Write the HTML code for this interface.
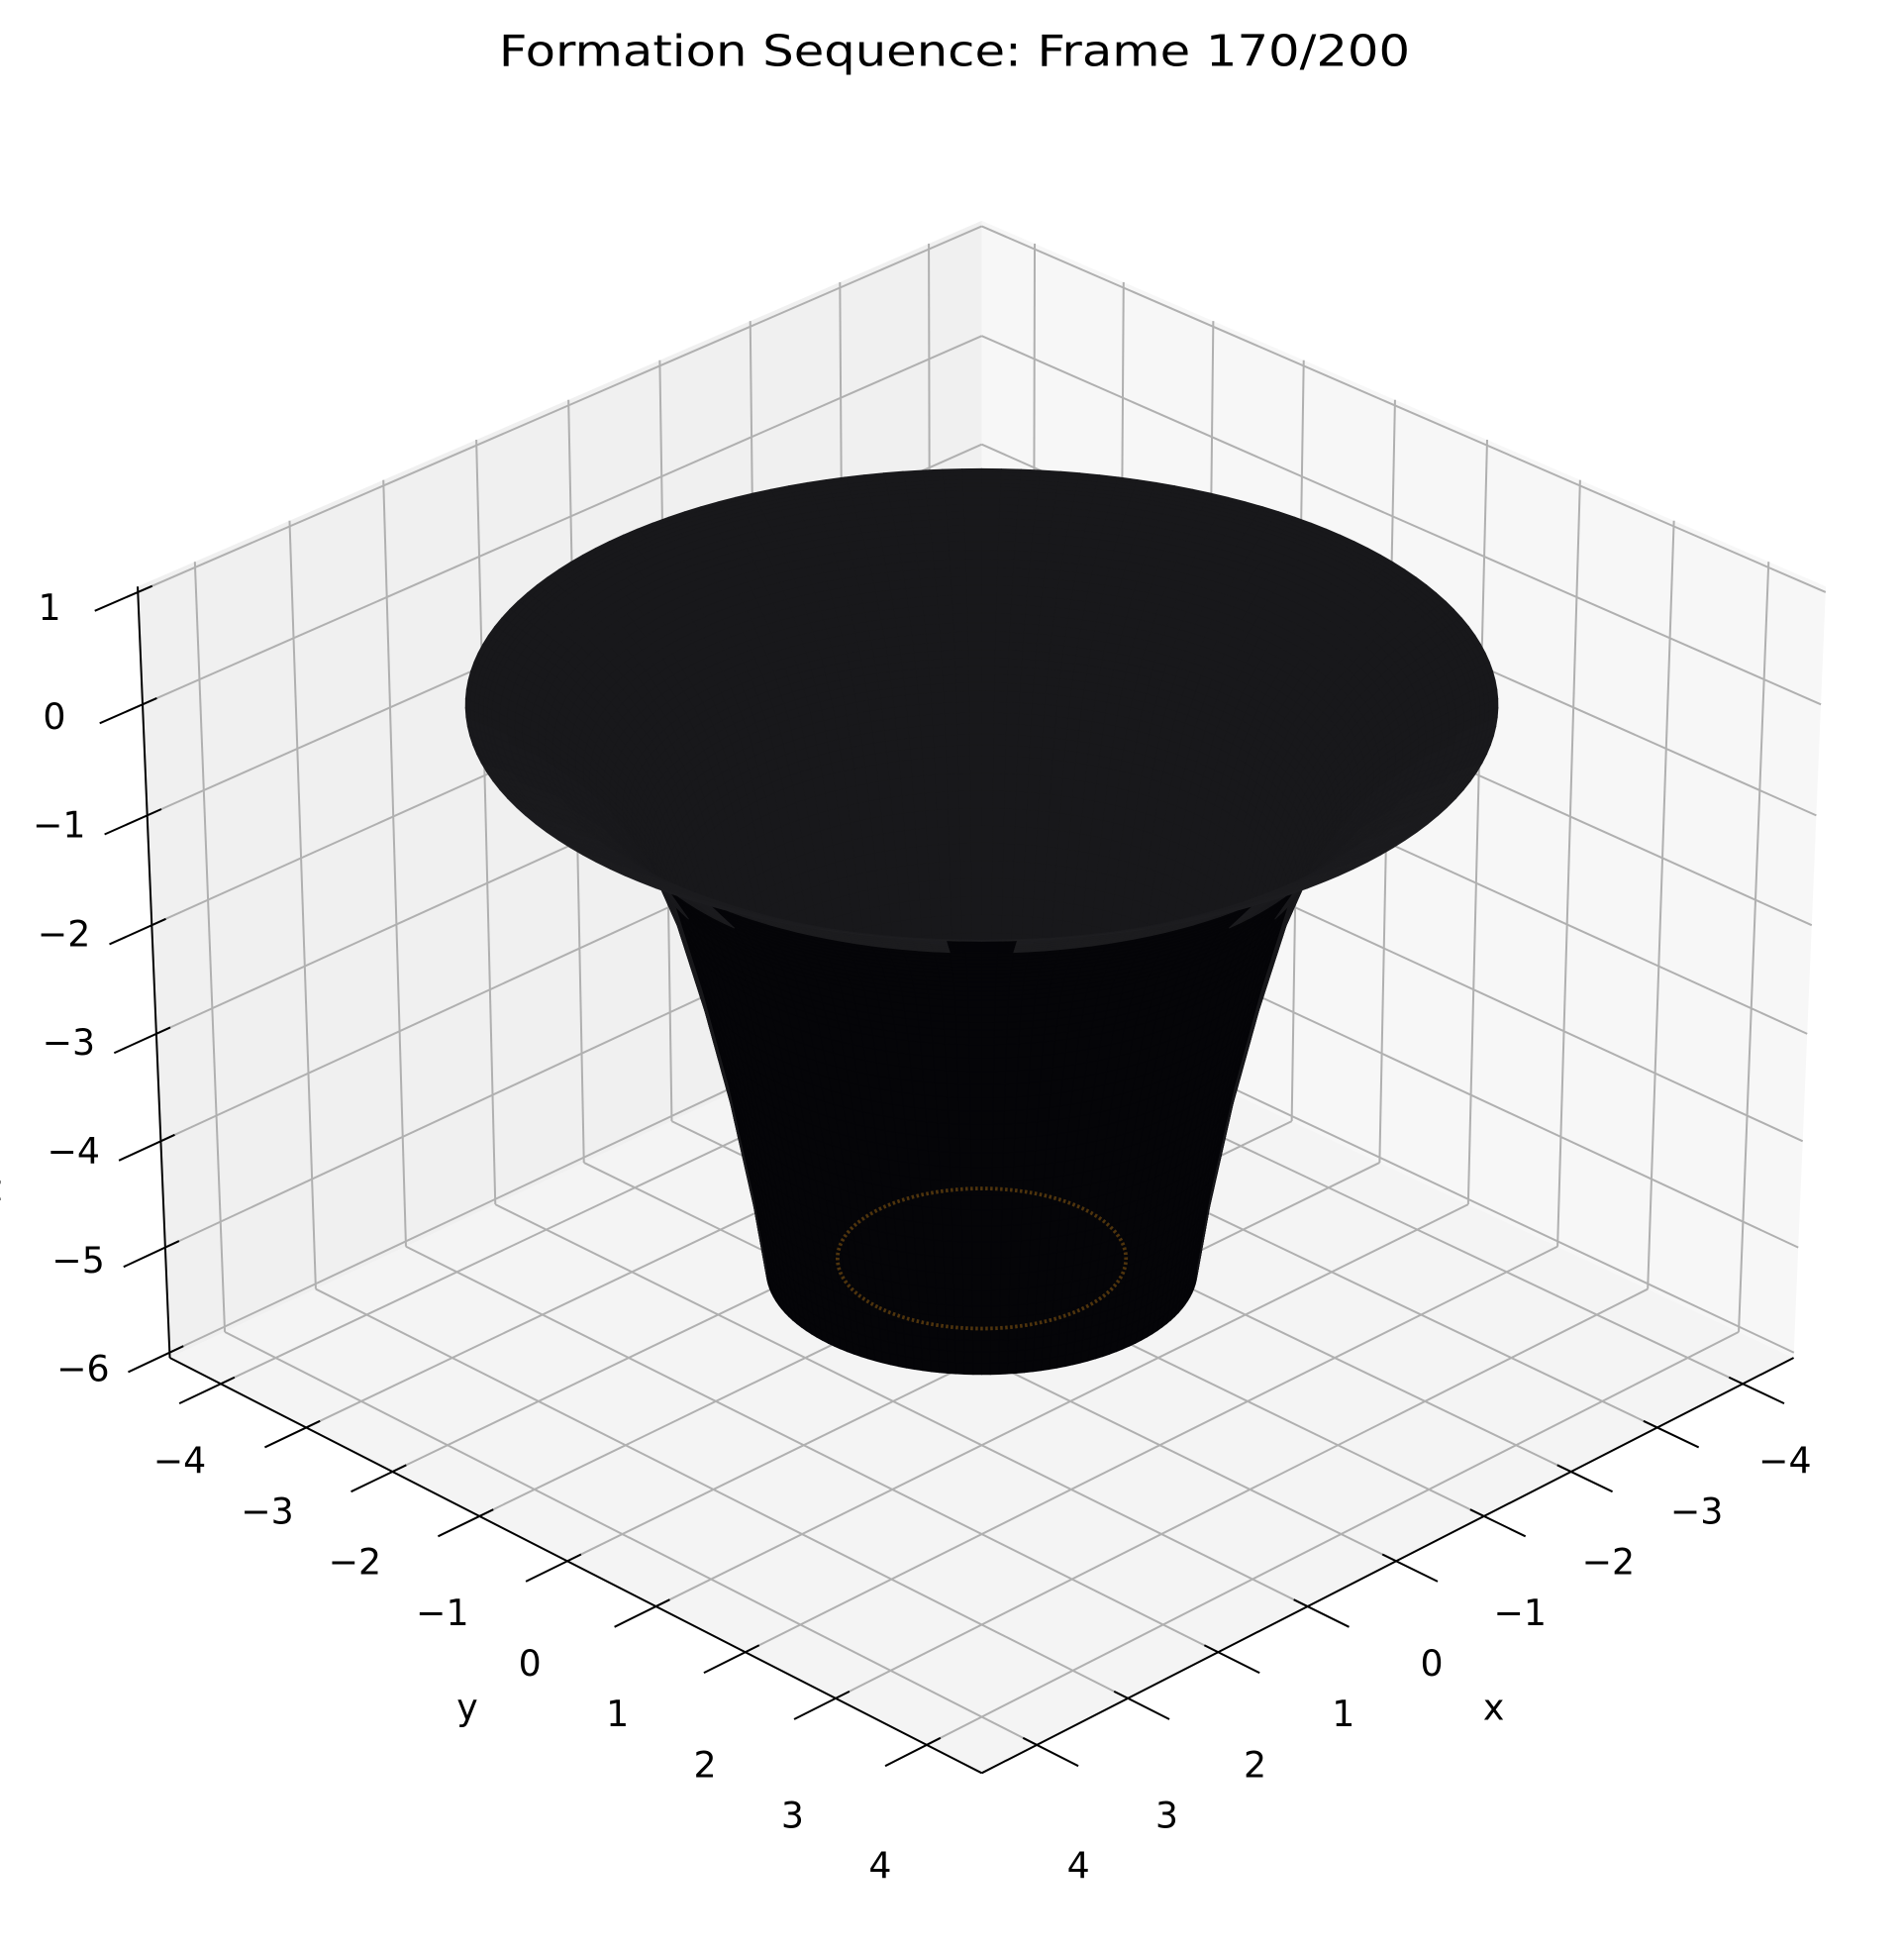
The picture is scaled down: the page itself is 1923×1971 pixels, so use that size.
<!DOCTYPE html>
<html><head><meta charset="utf-8"><style>
html,body{margin:0;padding:0;background:#fff;}
svg{display:block;}
text{font-family:"DejaVu Sans","Liberation Sans",sans-serif;fill:#000;}
</style></head><body>
<svg id="chart" width="1923" height="1971" viewBox="0 0 1536 1574.3" xmlns="http://www.w3.org/2000/svg">
<text x="770" y="53" font-size="34.5" text-anchor="middle" textLength="735" lengthAdjust="spacingAndGlyphs">Formation Sequence: Frame 170/200</text>
<g id="panes"></g><g id="grid"></g><g id="surface"></g><g id="axes"></g>
</svg>
<script>
// data
const xTicks = [-4,-3,-2,-1,0,1,2,3,4];
const yTicks = [-4,-3,-2,-1,0,1,2,3,4];
const zTicks = [1,0,-1,-2,-3,-4,-5,-6];
const profileR = [1.72,1.82,2.0,2.2,2.42,2.6,2.8,3.1,3.45,3.8,4.0];
const profileZ = [-5.2,-4.5,-3.5,-2.6,-1.75,-1.25,-0.9,-0.55,-0.25,-0.05,0.05];
const ringR = [1.15];
const ringZ = [-5.1];

const NS='http://www.w3.org/2000/svg';
const XL=[-4.6,4.6], YL=[-4.6,4.6], ZL=[-6.05,1.05];
const az=45*Math.PI/180;
let el, D, zk, e, u, v;
function setCam(elDeg,dd,k){el=elDeg*Math.PI/180;D=dd;zk=k;
  e=[Math.cos(el)*Math.cos(az),Math.cos(el)*Math.sin(az),Math.sin(el)];
  u=[-Math.sin(az),Math.cos(az),0];
  v=[-Math.sin(el)*Math.cos(az),-Math.sin(el)*Math.sin(az),Math.cos(el)];}
function raw(x,y,z){
  const P=[x/9.2,y/9.2,(z-(ZL[0]+ZL[1])/2)/(ZL[1]-ZL[0])*zk];
  const d=P[0]*e[0]+P[1]*e[1]+P[2]*e[2];
  const f=D/(D-d);
  return [(P[0]*u[0]+P[1]*u[1])*f,-(P[0]*v[0]+P[1]*v[1]+P[2]*v[2])*f,d];
}
let Sx,ox,Sy,oy;
function fitScale(){
  const cL=raw(XL[1],YL[0],ZL[0]), cR=raw(XL[0],YL[1],ZL[0]), cF=raw(XL[1],YL[1],ZL[0]), cB=raw(XL[0],YL[0],ZL[1]);
  Sx=(1447-137)/(cR[0]-cL[0]); ox=137-Sx*cL[0];
  Sy=(1430-178)/(cF[1]-cB[1]); oy=178-Sy*cB[1];
}
function proj(x,y,z){const r=raw(x,y,z);return [ox+Sx*r[0],oy+Sy*r[1],r[2]];}
let best=null;
for(let ed=18;ed<=36;ed+=0.5){for(const dd of [3,4,5,6,8,10,14]){for(let k=0.5;k<=1.3;k+=0.02){
  setCam(ed,dd,k);fitScale();
  const lb=proj(XL[1],YL[0],ZL[0]), lt=proj(XL[1],YL[0],ZL[1]);
  const err=(lb[1]-1092)**2+(lt[1]-472)**2+(lt[0]-106)**2*0.5;
  if(!best||err<best.err)best={err,ed,dd,k};
}}}
setCam(best.ed,best.dd,best.k);fitScale();

function mk(tag,parent,attrs){const el=document.createElementNS(NS,tag);for(const k in attrs)el.setAttribute(k,attrs[k]);parent.appendChild(el);return el;}
function poly(pts){return pts.map(p=>p[0].toFixed(2)+','+p[1].toFixed(2)).join(' ');}

const gP=document.getElementById('panes'), gG=document.getElementById('grid'), gS=document.getElementById('surface'), gA=document.getElementById('axes');
let p=mk('polygon',gP,{points:poly([proj(XL[1],YL[0],ZL[0]),proj(XL[0],YL[0],ZL[0]),proj(XL[0],YL[0],ZL[1]),proj(XL[1],YL[0],ZL[1])]),fill:'#f0f0f0'});


p=mk('polygon',gP,{points:poly([proj(XL[0],YL[0],ZL[0]),proj(XL[0],YL[1],ZL[0]),proj(XL[0],YL[1],ZL[1]),proj(XL[0],YL[0],ZL[1])]),fill:'#f7f7f7'});


p=mk('polygon',gP,{points:poly([proj(XL[1],YL[0],ZL[0]),proj(XL[0],YL[0],ZL[0]),proj(XL[0],YL[1],ZL[0]),proj(XL[1],YL[1],ZL[0])]),fill:'#f4f4f4'});


function gl(a,b,name){const l=mk('line',gG,{x1:a[0],y1:a[1],x2:b[0],y2:b[1],stroke:'#b0b0b0','stroke-width':1.6});

}
xTicks.forEach(t=>{gl(proj(t,YL[0],ZL[0]),proj(t,YL[0],ZL[1]),'x-gridline-wall');gl(proj(t,YL[0],ZL[0]),proj(t,YL[1],ZL[0]),'x-gridline-floor');});
yTicks.forEach(t=>{gl(proj(XL[0],t,ZL[0]),proj(XL[0],t,ZL[1]),'y-gridline-wall');gl(proj(XL[0],t,ZL[0]),proj(XL[1],t,ZL[0]),'y-gridline-floor');});
zTicks.forEach(t=>{gl(proj(XL[1],YL[0],t),proj(XL[0],YL[0],t),'z-gridline-left');gl(proj(XL[0],YL[0],t),proj(XL[0],YL[1],t),'z-gridline-right');});
// surface
const SUB=6;
const rs=[],zs=[];
for(let i=0;i<profileR.length-1;i++){for(let k=0;k<SUB;k++){const t=k/SUB;rs.push(profileR[i]+(profileR[i+1]-profileR[i])*t);zs.push(profileZ[i]+(profileZ[i+1]-profileZ[i])*t);}}
rs.push(profileR[profileR.length-1]);zs.push(profileZ[profileZ.length-1]);
const NT=160, faces=[];
for(let i=0;i<rs.length-1;i++){
  const dr=rs[i+1]-rs[i], dz=zs[i+1]-zs[i];const slope=dz/dr;
  for(let j=0;j<NT;j++){
    const a0=j/NT*2*Math.PI,a1=(j+1)/NT*2*Math.PI;
    const q=[proj(rs[i]*Math.cos(a0),rs[i]*Math.sin(a0),zs[i]),proj(rs[i]*Math.cos(a1),rs[i]*Math.sin(a1),zs[i]),proj(rs[i+1]*Math.cos(a1),rs[i+1]*Math.sin(a1),zs[i+1]),proj(rs[i+1]*Math.cos(a0),rs[i+1]*Math.sin(a0),zs[i+1])];
    const am=(a0+a1)/2;
    const n=[-slope*Math.cos(am),-slope*Math.sin(am),1*(9.2/(ZL[1]-ZL[0])*zk)];
    const dn=n[0]*e[0]+n[1]*e[1]+n[2]*e[2];
    const top=dn>0;
    const c=top?Math.round(24+6*Math.max(0,Math.cos(am-az))*(i/rs.length)):5;
    faces.push({q,d:(q[0][2]+q[1][2]+q[2][2]+q[3][2])/4,c,nearTop:top&&Math.cos(am-az)>0});
  }
}
faces.sort((a,b)=>a.d-b.d);
function drawFace(f){const col='rgb('+f.c+','+f.c+','+(f.c+3)+')';
  const el=mk('polygon',gS,{points:poly(f.q),fill:col,stroke:col,'stroke-width':0.6});
  
  }
faces.filter(f=>!f.nearTop).forEach(drawFace);
ringR.forEach((r,k)=>{const pts=[];for(let j=0;j<=120;j++){const a=j/120*2*Math.PI;pts.push(proj(r*Math.cos(a),r*Math.sin(a),ringZ[k]));}
  const el=mk('polyline',gS,{points:poly(pts),fill:'none',stroke:'rgba(170,110,20,0.45)','stroke-width':3,'stroke-dasharray':'2 2'});
  
  });
faces.filter(f=>f.nearTop).forEach(drawFace);
function al(a,b,name,w){const l=mk('line',gA,{x1:a[0],y1:a[1],x2:b[0],y2:b[1],stroke:'#000','stroke-width':w||1.6});

}
al(proj(XL[1],YL[0],ZL[0]),proj(XL[1],YL[1],ZL[0]),'y-axis-line');
al(proj(XL[1],YL[1],ZL[0]),proj(XL[0],YL[1],ZL[0]),'x-axis-line');
al(proj(XL[1],YL[0],ZL[0]),proj(XL[1],YL[0],ZL[1]),'z-axis-line');
function lbl(x,y,s,name){const t=mk('text',gA,{x:x,y:y,'font-size':29,'text-anchor':'middle','dominant-baseline':'central'});t.textContent=s;

}
function fmt(t){return t<0?'\u2212'+(-t):''+t;}
yTicks.forEach(t=>{al(proj(XL[1]-0.15,t,ZL[0]),proj(XL[1]+0.45,t,ZL[0]),'y-tick',1.6);
  const f=(t+4)/8;lbl(145+(710-145)*f,1178+(1505-1178)*f,fmt(t),'y-tick-label');});
xTicks.forEach(t=>{al(proj(t,YL[1]-0.15,ZL[0]),proj(t,YL[1]+0.45,ZL[0]),'x-tick',1.6);
  const f=(t+4)/8;lbl(1440+(870-1440)*f,1178+(1505-1178)*f,fmt(t),'x-tick-label');});
zTicks.forEach(t=>{al(proj(XL[1]-0.15,YL[0],t),proj(XL[1]+0.45,YL[0],t),'z-tick',1.6);
  const f=(1-t)/7;lbl(40+(67-40)*f,490+(1104-490)*f,fmt(t),'z-tick-label');});
lbl(377,1377,'y','y-axis-title');
lbl(1205,1377,'x','x-axis-title');
lbl(-6,958,'z','z-axis-title');
</script>
</body></html>
